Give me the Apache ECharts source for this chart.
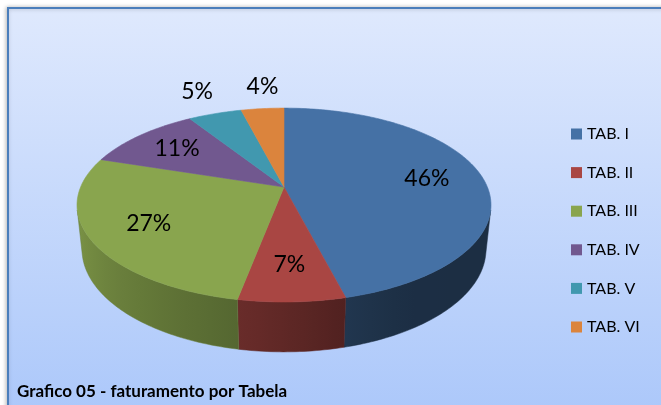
<!DOCTYPE html>
<html><head><meta charset="utf-8">
<script src="https://cdn.jsdelivr.net/npm/echarts@6/dist/echarts.min.js"></script>
<style>html,body{margin:0;padding:0;background:#fff}#c{width:661px;height:405px}</style>
</head><body><div id="c"></div>
<script>
// ---- data ----
const categories = ['TAB. I', 'TAB. II', 'TAB. III', 'TAB. IV', 'TAB. V', 'TAB. VI'];
const values = [46, 7, 27, 11, 5, 4];
const titleText = 'Grafico 05 - faturamento por Tabela';

// ---- styles ----
const topColors = ['#4571a5', '#a94643', '#89a54e', '#71588f', '#4198af', '#db843d'];
const FONT = 'Lato, "Open Sans", sans-serif';

// ---- 3D projection (perspective camera looking down at the pie) ----
const CX = 284, CY = 187, F = 970, D = 4.77, PHI = 27.4 * Math.PI / 180, T = 0.2467;
const SP = Math.sin(PHI), CP = Math.cos(PHI);
function proj(r, th, z) {
  const u = r * Math.sin(th), v = -r * Math.cos(th);
  const depth = D - v * CP - z * SP;
  const yc = -v * SP + z * CP;
  return [CX + F * u / depth, CY - F * yc / depth];
}
const total = values.reduce((a, b) => a + b, 0);
function angles(i) {
  let s = 0;
  for (let k = 0; k < i; k++) s += values[k];
  return [s / total * 2 * Math.PI, (s + values[i]) / total * 2 * Math.PI];
}
const VIS0 = Math.acos(-1 / (D * CP));
const VIS1 = 2 * Math.PI - VIS0;
const shadeTable = [[0, 0.40], [150, 0.41], [166, 0.48], [190, 0.62], [250, 0.88], [360, 0.9]];
function shade(th) {
  const d = th * 180 / Math.PI;
  for (let k = 1; k < shadeTable.length; k++) {
    if (d <= shadeTable[k][0]) {
      const [d0, s0] = shadeTable[k - 1], [d1, s1] = shadeTable[k];
      return s0 + (s1 - s0) * (d - d0) / (d1 - d0);
    }
  }
  return 0.9;
}
function mix(hex, f) {
  const n = parseInt(hex.slice(1), 16);
  const r = Math.round(((n >> 16) & 255) * f), g = Math.round(((n >> 8) & 255) * f), b = Math.round((n & 255) * f);
  return 'rgb(' + r + ',' + g + ',' + b + ')';
}
function arc(a0, a1, z) {
  const n = Math.max(2, Math.ceil((a1 - a0) / (Math.PI / 180)));
  const pts = [];
  for (let k = 0; k <= n; k++) pts.push(proj(1, a0 + (a1 - a0) * k / n, z));
  return pts;
}

function sliceSeries(i) {
  return {
    type: 'custom',
    name: categories[i],
    coordinateSystem: 'none',
    itemStyle: { color: topColors[i] },
    data: [[values[i]]],
    silent: true,
    renderItem: function (params, api) {
      const [a0, a1] = angles(i);
      const children = [];
      const s0 = Math.max(a0, VIS0), s1 = Math.min(a1, VIS1);
      if (s1 > s0) {
        const topArc = arc(s0, s1, 0), botArc = arc(s0, s1, -T).reverse();
        const xa = topArc[0][0], xb = topArc[topArc.length - 1][0];
        const stops = [];
        for (let k = 0; k <= 10; k++) {
          const th = s0 + (s1 - s0) * k / 10;
          const x = proj(1, th, 0)[0];
          stops.push({ offset: Math.min(1, Math.max(0, (x - xa) / (xb - xa))), color: mix(topColors[i], shade(th)) });
        }
        const mid = mix(topColors[i], shade((s0 + s1) / 2));
        children.push({
          type: 'polygon',
          shape: { points: topArc.concat(botArc) },
          style: { fill: new echarts.graphic.LinearGradient(xa, 0, xb, 0, stops, true), stroke: mid, lineWidth: 0.5 }
        });
      }
      const apex = proj(0, 0, 0);
      children.push({
        type: 'polygon',
        shape: { points: [apex].concat(arc(a0, a1, 0)) },
        style: { fill: topColors[i], stroke: topColors[i], lineWidth: 0.6 }
      });
      return { type: 'group', children: children };
    }
  };
}

const labelSeries = {
  type: 'custom',
  name: 'labels',
  coordinateSystem: 'none',
  silent: true,
  z: 10,
  data: values.map((v, i) => [i, v]),
  renderItem: function (params, api) {
    const i = api.value(0), v = api.value(1);
    const [a0, a1] = angles(i);
    const mid = (a0 + a1) / 2;
    let x, y, align = 'center', va = 'middle';
    if (v < 6) {
      const p = proj(1, mid, 0);
      x = p[0]; y = p[1] - 11; va = 'bottom';
      if (Math.sin(mid) < -0.3) { align = 'right'; x -= 2; }
    } else {
      const p = proj(0.72, mid, 0);
      x = p[0]; y = p[1];
    }
    return {
      type: 'text', x: x, y: y,
      style: { text: v + '%', fill: '#000', font: '23px ' + FONT, align: align, verticalAlign: va }
    };
  }
};

const chart = echarts.init(document.getElementById('c'), null, { renderer: 'canvas' });
chart.setOption({
  animation: false,
  color: topColors,
  graphic: [{
    type: 'rect', z: -10,
    shape: { x: 8, y: 8, width: 700, height: 450 },
    style: {
      fill: new echarts.graphic.LinearGradient(0, 0, 0, 1, [
        { offset: 0, color: '#dfe9fd' }, { offset: 1, color: '#a6c4fa' }
      ]),
      stroke: '#4a7ebb', lineWidth: 2,
      shadowBlur: 4, shadowColor: 'rgba(0,0,0,0.25)', shadowOffsetX: -1, shadowOffsetY: 0
    }
  }],
  title: {
    text: titleText, left: 17, top: 383, padding: 0,
    textStyle: { fontFamily: FONT, fontSize: 17, fontWeight: 'bold', color: '#000' }
  },
  legend: {
    data: categories,
    orient: 'vertical', left: 571, top: 126, padding: 0,
    itemWidth: 11, itemHeight: 11, itemGap: 22.6, icon: 'rect',
    textStyle: { fontFamily: FONT, fontSize: 16, color: '#000', lineHeight: 16 },
    selectedMode: false
  },
  series: categories.map((c, i) => sliceSeries(i)).concat([labelSeries])
});
</script></body></html>
